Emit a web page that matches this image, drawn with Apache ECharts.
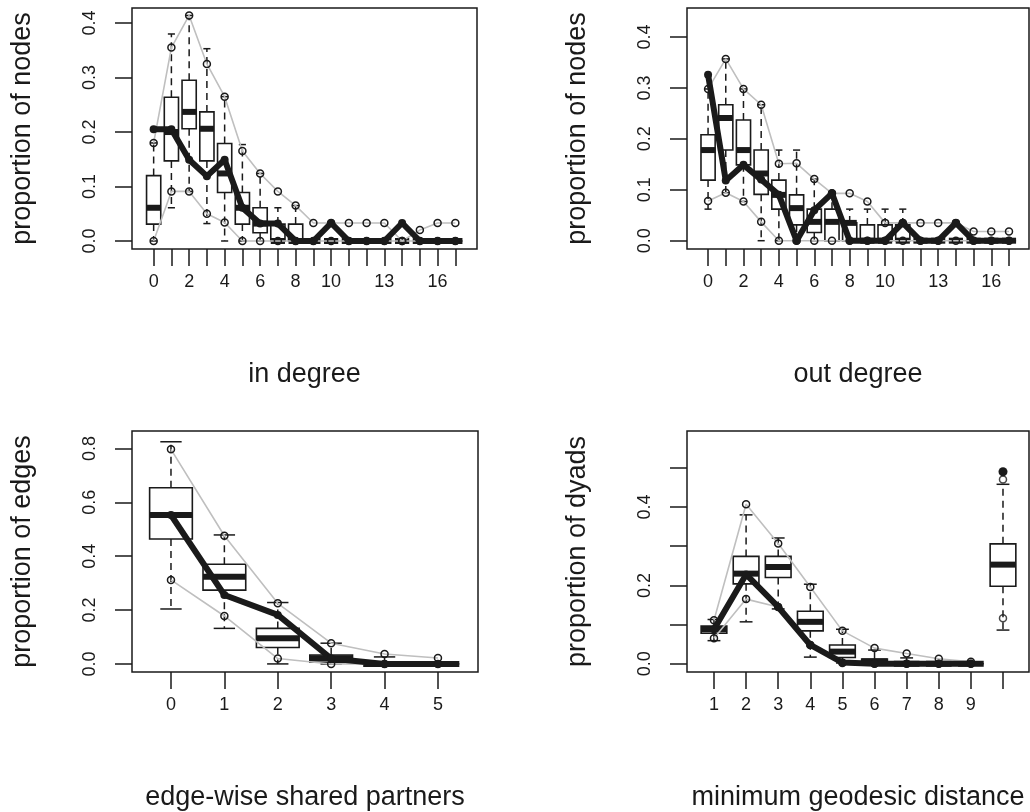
<!DOCTYPE html>
<html>
<head>
<meta charset="utf-8">
<script src="https://cdn.jsdelivr.net/npm/echarts@6/dist/echarts.min.js"></script>
<style>
  html, body { margin: 0; background: #fff; }
  #main { width: 1030px; height: 812px; }
</style>
</head>
<body>
<div id="main"></div>
<script>
// ---- in degree ----
var idegCats = [0, 1, 2, 3, 4, 5, 6, 7, 8, 9, 10, 11, 12, 13, 14, 15, 16, 17]
var idegLabels = [0, 2, 4, 6, 8, 10, 13, 16]
// [low whisker, q1, median, q3, high whisker]
var idegBox = [
  [0.0, 0.031, 0.061, 0.120, 0.180],
  [0.061, 0.147, 0.200, 0.264, 0.380],
  [0.091, 0.206, 0.237, 0.295, 0.414],
  [0.032, 0.147, 0.206, 0.237, 0.353],
  [0.0, 0.089, 0.124, 0.179, 0.265],
  [0.0, 0.031, 0.061, 0.089, 0.177],
  [0.0, 0.015, 0.032, 0.061, 0.124],
  [0.0, 0.0, 0.0, 0.031, 0.061],
  [0.0, 0.0, 0.0, 0.031, 0.065],
  [0, 0, 0, 0, 0], [0, 0, 0, 0, 0], [0, 0, 0, 0, 0], [0, 0, 0, 0, 0],
  [0, 0, 0, 0, 0], [0, 0, 0, 0, 0], [0, 0, 0, 0, 0], [0, 0, 0, 0, 0], [0, 0, 0, 0, 0]
]
var idegUpper = [0.180, 0.355, 0.414, 0.325, 0.265, 0.165, 0.124, 0.091, 0.065, 0.033, 0.033, 0.033, 0.033, 0.033, 0.0, 0.020, 0.033, 0.033]
var idegLower = [0.0, 0.091, 0.091, 0.050, 0.034, 0, 0, 0, 0, 0, 0, 0, 0, 0, 0, 0, 0, 0]
var idegObs = [0.205, 0.205, 0.149, 0.119, 0.149, 0.061, 0.032, 0.032, 0, 0, 0.033, 0, 0, 0, 0.033, 0, 0, 0]

// ---- out degree ----
var odegCats = [0, 1, 2, 3, 4, 5, 6, 7, 8, 9, 10, 11, 12, 13, 14, 15, 16, 17]
var odegLabels = [0, 2, 4, 6, 8, 10, 13, 16]
var odegBox = [
  [0.062, 0.119, 0.178, 0.208, 0.298],
  [0.094, 0.178, 0.241, 0.267, 0.357],
  [0.077, 0.149, 0.178, 0.237, 0.298],
  [0.0, 0.091, 0.132, 0.178, 0.267],
  [0.0, 0.062, 0.090, 0.119, 0.178],
  [0.0, 0.031, 0.064, 0.090, 0.178],
  [0.0, 0.016, 0.037, 0.062, 0.121],
  [0.0, 0.0, 0.037, 0.062, 0.093],
  [0.0, 0.0, 0.035, 0.035, 0.062],
  [0.0, 0.0, 0.0, 0.031, 0.062],
  [0.0, 0.0, 0.0, 0.031, 0.062],
  [0.0, 0.0, 0.0, 0.031, 0.062],
  [0, 0, 0, 0, 0], [0, 0, 0, 0, 0], [0, 0, 0, 0, 0], [0, 0, 0, 0, 0], [0, 0, 0, 0, 0], [0, 0, 0, 0, 0]
]
var odegUpper = [0.298, 0.357, 0.298, 0.267, 0.151, 0.152, 0.121, 0.093, 0.093, 0.077, 0.035, 0.035, 0.035, 0.035, 0.035, 0.018, 0.018, 0.018]
var odegLower = [0.078, 0.094, 0.077, 0.037, 0, 0, 0, 0, 0, 0, 0, 0, 0, 0, 0, 0, 0, 0]
var odegObs = [0.326, 0.118, 0.149, 0.120, 0.090, 0.0, 0.060, 0.093, 0, 0, 0, 0.035, 0, 0, 0.035, 0, 0, 0]

// ---- edge-wise shared partners ----
var espCats = [0, 1, 2, 3, 4, 5]
var espLabels = [0, 1, 2, 3, 4, 5]
var espBox = [
  [0.204, 0.464, 0.553, 0.654, 0.825],
  [0.132, 0.274, 0.324, 0.370, 0.479],
  [0.0, 0.061, 0.095, 0.132, 0.228],
  [0.0, 0.006, 0.021, 0.033, 0.077],
  [0.0, 0.0, 0.0, 0.004, 0.026],
  [0, 0, 0, 0, 0]
]
var espUpper = [0.797, 0.476, 0.225, 0.077, 0.037, 0.022]
var espLower = [0.312, 0.178, 0.020, 0.0, 0.0, 0.0]
var espObs = [0.553, 0.256, 0.182, 0.020, 0.0, 0.0]

// ---- minimum geodesic distance (last one = Inf) ----
var distCats = [1, 2, 3, 4, 5, 6, 7, 8, 9, 10]
var distLabels = [1, 2, 3, 4, 5, 6, 7, 8, 9]
var distBox = [
  [0.059, 0.078, 0.088, 0.096, 0.113],
  [0.107, 0.204, 0.230, 0.274, 0.380],
  [0.140, 0.220, 0.247, 0.274, 0.321],
  [0.017, 0.084, 0.107, 0.134, 0.203],
  [0.002, 0.016, 0.031, 0.048, 0.088],
  [0.0, 0.0, 0.006, 0.012, 0.035],
  [0.0, 0.0, 0.0, 0.004, 0.015],
  [0, 0, 0, 0, 0],
  [0, 0, 0, 0, 0],
  [0.086, 0.198, 0.253, 0.306, 0.458]
]
var distUpper = [0.111, 0.407, 0.307, 0.196, 0.084, 0.040, 0.026, 0.013, 0.005, 0.470]
var distLower = [0.065, 0.165, 0.145, 0.048, 0.002, 0, 0, 0, 0, 0.116]
var distObs = [0.088, 0.228, 0.145, 0.048, 0.003, 0, 0, 0, 0, 0.490]

var yTicks1 = [0, 0.1, 0.2, 0.3, 0.4]
var yTicks3 = [0, 0.2, 0.4, 0.6, 0.8]
var yTicks4 = [0, 0.1, 0.2, 0.3, 0.4, 0.5]
var yLabels4 = [0, 0.2, 0.4]

var FONT = 'Liberation Sans, Arial, Helvetica, sans-serif'
var INK = '#1a1a1a'
var GREY = '#bfbfbf'

var panels = [
  { grid: { left: 132, top: 8, width: 345, height: 241 }, xmin: -1.22, xmax: 18.22, ymin: -0.0147, ymax: 0.4277,
    cats: idegCats, xlab: idegLabels, ytick: yTicks1, ylab: yTicks1, box: idegBox, up: idegUpper, low: idegLower, obs: idegObs,
    xname: 'in degree', yname: 'proportion of nodes', lineN: 18 },
  { grid: { left: 687, top: 8, width: 342, height: 241 }, xmin: -1.19, xmax: 18.13, ymin: -0.0163, ymax: 0.457,
    cats: odegCats, xlab: odegLabels, ytick: yTicks1, ylab: yTicks1, box: odegBox, up: odegUpper, low: odegLower, obs: odegObs,
    xname: 'out degree', yname: 'proportion of nodes', lineN: 18 },
  { grid: { left: 132, top: 431, width: 346, height: 241 }, xmin: -0.73, xmax: 5.75, ymin: -0.030, ymax: 0.865,
    cats: espCats, xlab: espLabels, ytick: yTicks3, ylab: yTicks3, box: espBox, up: espUpper, low: espLower, obs: espObs,
    xname: 'edge-wise shared partners', yname: 'proportion of edges', lineN: 6 },
  { grid: { left: 687, top: 431, width: 342, height: 241 }, xmin: 0.16, xmax: 10.81, ymin: -0.021, ymax: 0.594,
    cats: distCats, xlab: distLabels, ytick: yTicks4, ylab: yLabels4, box: distBox, up: distUpper, low: distLower, obs: distObs,
    xname: 'minimum geodesic distance', yname: 'proportion of dyads', lineN: 9 }
]

function renderBox(params, api) {
  var x = api.value(0)
  var lo = api.coord([x, api.value(1)])
  var q1 = api.coord([x, api.value(2)])
  var med = api.coord([x, api.value(3)])
  var q3 = api.coord([x, api.value(4)])
  var hi = api.coord([x, api.value(5)])
  var w = api.size([0.8, 0])[0]
  var cx = q1[0]
  var dash = { stroke: INK, lineWidth: 1.5, lineDash: [7, 5] }
  var solid = { stroke: INK, lineWidth: 1.5 }
  return {
    type: 'group',
    children: [
      { type: 'line', shape: { x1: cx, y1: q3[1], x2: cx, y2: hi[1] }, style: dash },
      { type: 'line', shape: { x1: cx, y1: q1[1], x2: cx, y2: lo[1] }, style: dash },
      { type: 'line', shape: { x1: cx - w / 4, y1: hi[1], x2: cx + w / 4, y2: hi[1] }, style: solid },
      { type: 'line', shape: { x1: cx - w / 4, y1: lo[1], x2: cx + w / 4, y2: lo[1] }, style: solid },
      { type: 'rect', shape: { x: cx - w / 2, y: q3[1], width: w, height: q1[1] - q3[1] },
        style: { stroke: INK, lineWidth: 1.6, fill: 'none' } },
      { type: 'line', shape: { x1: cx - w / 2, y1: med[1], x2: cx + w / 2, y2: med[1] },
        style: { stroke: INK, lineWidth: 6 } }
    ]
  }
}

var option = {
  backgroundColor: '#fff',
  animation: false,
  textStyle: { fontFamily: FONT },
  grid: [], xAxis: [], yAxis: [], series: []
}

panels.forEach(function (p, i) {
  option.grid.push(Object.assign({ show: true, borderColor: INK, borderWidth: 1.5, containLabel: false }, p.grid))
  option.xAxis.push({
    gridIndex: i, type: 'value', min: p.xmin, max: p.xmax,
    axisLine: { show: false, onZero: false }, splitLine: { show: false },
    axisTick: { show: true, length: 17, customValues: p.cats, lineStyle: { color: INK, width: 1.5 } },
    axisLabel: { customValues: p.xlab, margin: 24, fontSize: 18, color: INK, fontFamily: FONT },
    name: p.xname, nameLocation: 'middle', nameGap: 112,
    nameTextStyle: { fontSize: 27, color: INK, fontFamily: FONT }
  })
  option.yAxis.push({
    gridIndex: i, type: 'value', min: p.ymin, max: p.ymax,
    axisLine: { show: false, onZero: false }, splitLine: { show: false },
    axisTick: { show: true, length: 17, customValues: p.ytick, lineStyle: { color: INK, width: 1.5 } },
    axisLabel: { customValues: p.ylab, rotate: 90, margin: 33, fontSize: 18, color: INK, fontFamily: FONT,
      formatter: function (v) { return v.toFixed(1) } },
    name: p.yname, nameLocation: 'middle', nameGap: 96, nameRotate: 90,
    nameTextStyle: { fontSize: 27, color: INK, fontFamily: FONT }
  })

  var boxData = p.box.map(function (b, k) { return [p.cats[k]].concat(b) })
  option.series.push({
    type: 'custom', xAxisIndex: i, yAxisIndex: i, renderItem: renderBox, data: boxData, z: 2
  })

  function pts(arr, from, to) {
    var out = []
    for (var k = from; k < to; k++) out.push([p.cats[k], arr[k]])
    return out
  }
  var n = p.lineN
  var circle = { color: 'rgba(0,0,0,0)', borderColor: INK, borderWidth: 1.5 }
  ;[p.up, p.low].forEach(function (arr) {
    option.series.push({
      type: 'line', xAxisIndex: i, yAxisIndex: i, data: pts(arr, 0, n), z: 3,
      lineStyle: { color: GREY, width: 1.6 }, symbol: 'circle', symbolSize: 7, itemStyle: circle
    })
    if (n < arr.length) {
      option.series.push({
        type: 'scatter', xAxisIndex: i, yAxisIndex: i, data: pts(arr, n, arr.length), z: 3,
        symbol: 'circle', symbolSize: 7, itemStyle: circle
      })
    }
  })
  option.series.push({
    type: 'line', xAxisIndex: i, yAxisIndex: i, data: pts(p.obs, 0, n), z: 4,
    lineStyle: { color: INK, width: 6 }, symbol: 'circle', symbolSize: 8, itemStyle: { color: INK }
  })
  if (n < p.obs.length) {
    option.series.push({
      type: 'scatter', xAxisIndex: i, yAxisIndex: i, data: pts(p.obs, n, p.obs.length), z: 4,
      symbol: 'circle', symbolSize: 9, itemStyle: { color: INK, opacity: 1 }
    })
  }
})

var chart = echarts.init(document.getElementById('main'))
chart.setOption(option)
</script>
</body>
</html>
